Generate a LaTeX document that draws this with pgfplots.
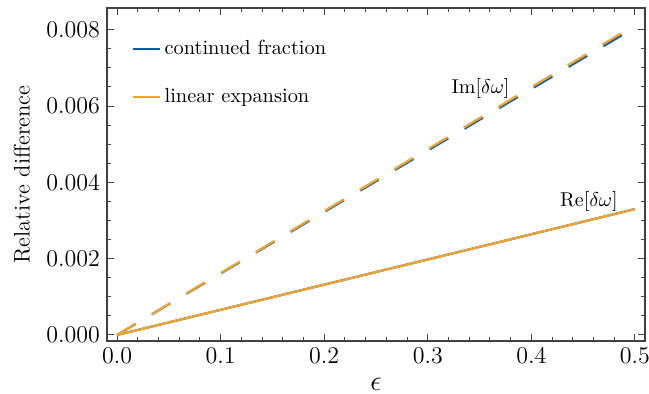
\documentclass[border=0pt]{standalone}
\usepackage{pgfplots}
\pgfplotsset{compat=1.18}
\usetikzlibrary{calc}
\definecolor{cfblue}{HTML}{0C5DA5}
\definecolor{leorange}{HTML}{F0A32D}
\begin{document}
\begin{tikzpicture}
\begin{axis}[
  scale only axis,
  width=269pt, height=166.5pt,
  xmin=-0.0097, xmax=0.5097,
  ymin=-0.000157, ymax=0.00857,
  xtick={0,0.1,0.2,0.3,0.4,0.5},
  ytick={0,0.002,0.004,0.006,0.008},
  minor x tick num=4,
  minor y tick num=3,
  tick align=inside,
  major tick length=3.5pt,
  minor tick length=2pt,
  every tick/.style={black!75, line width=0.5pt},
  axis line style={black!75, line width=0.6pt},
  x tick label style={/pgf/number format/.cd, fixed, fixed zerofill, precision=1},
  y tick label style={/pgf/number format/.cd, fixed, fixed zerofill, precision=3},
  scaled y ticks=false,
  scaled x ticks=false,
  tick label style={font=\fontsize{11.5}{13}\selectfont},
  xlabel={$\epsilon$},
  ylabel={Relative difference},
  xlabel style={font=\fontsize{13.5}{15}\selectfont, at={(axis description cs:0.5,-0.129)}, anchor=center},
  ylabel style={font=\fontsize{11.3}{13}\selectfont, at={(axis description cs:-0.158,0.5)}, anchor=center},
  legend cell align=left,
  legend image code/.code={\draw[#1, line width=1.1pt, solid] (0pt,0pt) -- (11pt,0pt); \path (0pt,0pt) -- (13.5pt,0pt);},
  legend style={draw=none, fill=none, font=\fontsize{10.2}{12}\selectfont,
    at={(axis description cs:0,1)}, anchor=north west, xshift=9pt, yshift=-12pt,
    row sep=11.5pt,
    nodes={inner sep=2pt}},
  clip=false,
]
% continued fraction
\addplot[cfblue, line width=1.1pt, dash pattern=on 10.8pt off 9.4pt, forget plot] coordinates {(0,0) (0.1,0.001612) (0.2,0.003224) (0.3,0.004836) (0.4,0.006448) (0.5,0.00806)};
\addplot[cfblue, line width=1.1pt] coordinates {(0,0) (0.1,0.00066) (0.2,0.00132) (0.3,0.00198) (0.4,0.00264) (0.5,0.0033)};
\addlegendentry{continued fraction}
% linear expansion
\addplot[leorange, line width=1.1pt, dash pattern=on 10.8pt off 9.4pt, forget plot] coordinates {(0,0) (0.1,0.001624) (0.2,0.003248) (0.3,0.004872) (0.4,0.006496) (0.5,0.00812)};
\addplot[leorange, line width=1.1pt] coordinates {(0,0) (0.1,0.00066) (0.2,0.00132) (0.3,0.00198) (0.4,0.00264) (0.5,0.0033)};
\addlegendentry{linear expansion}
\node[font=\fontsize{9.8}{11}\selectfont] at (axis cs:0.351,0.00647) {$\mathrm{Im}[\delta\omega]$};
\node[font=\fontsize{9.8}{11}\selectfont] at (axis cs:0.4556,0.00349) {$\mathrm{Re}[\delta\omega]$};
\end{axis}
\pgfresetboundingbox
\path ($(current axis.south west)+(-53.5pt,-26.5pt)$) rectangle ($(current axis.north east)+(2pt,4pt)$);
\end{tikzpicture}
\end{document}
